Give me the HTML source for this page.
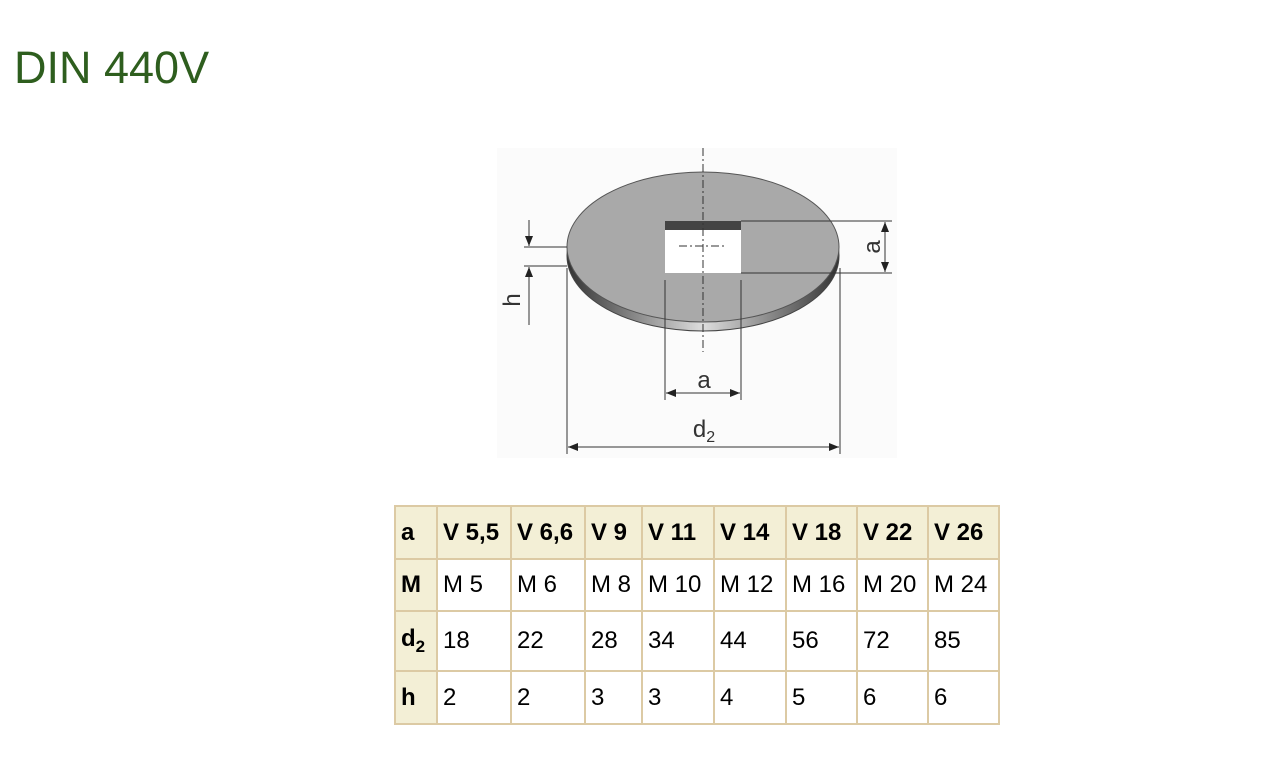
<!DOCTYPE html>
<html><head><meta charset="utf-8"><style>
body{margin:0;width:1288px;height:768px;background:#fff;position:relative;font-family:"Liberation Sans",sans-serif;overflow:hidden}
h1{position:absolute;left:14px;top:42px;margin:0;font-weight:normal;font-size:45px;color:#2e5e1e;letter-spacing:0px}
table{position:absolute;left:394px;top:505px;border-collapse:collapse;font-size:24px;color:#000;table-layout:fixed}
td{border:2px solid #dccaa4;padding:0 0 0 5px;text-align:left;white-space:nowrap;overflow:hidden}
tr.h td{background:#f3efd6;font-weight:bold}
td.f{background:#f3efd6;font-weight:bold}
sub{font-size:17px;vertical-align:-6px}
</style></head><body>
<h1>DIN 440V</h1>
<svg style="position:absolute;left:0;top:0" width="1288" height="768">
<defs><marker id="ar" markerWidth="10" markerHeight="8" refX="10" refY="4" orient="auto" markerUnits="userSpaceOnUse"><path d="M0,0L10,4L0,8z" fill="#222"/></marker>
<linearGradient id="eg" x1="0" x2="1"><stop offset="0" stop-color="#333"/><stop offset="0.5" stop-color="#ddd"/><stop offset="1" stop-color="#333"/></linearGradient></defs>
<rect x="497" y="148" width="400" height="310" fill="#fbfbfb"/>
<ellipse cx="703" cy="256" rx="136" ry="75" fill="url(#eg)" stroke="#444" stroke-width="1"/>
<ellipse cx="703" cy="247" rx="136" ry="75" fill="#a9a9a9" stroke="#555" stroke-width="1"/>
<rect x="665" y="221" width="76" height="52" fill="#fff"/>
<rect x="665" y="221" width="76" height="9" fill="#444"/>
<g stroke="#333" stroke-width="1" fill="none">
<line x1="703" y1="148" x2="703" y2="352" stroke-dasharray="8,3,2,3"/>
<line x1="679" y1="246" x2="727" y2="246" stroke-dasharray="8,3,2,3"/>
<line x1="741" y1="221" x2="892" y2="221"/><line x1="741" y1="273" x2="892" y2="273"/>
<line x1="885" y1="235" x2="885" y2="222" marker-end="url(#ar)"/><line x1="885" y1="235" x2="885" y2="272" marker-end="url(#ar)"/>
<line x1="524" y1="247" x2="567" y2="247"/><line x1="524" y1="266" x2="567" y2="266"/>
<line x1="529" y1="220" x2="529" y2="246" marker-end="url(#ar)"/>
<line x1="529" y1="325" x2="529" y2="267" marker-end="url(#ar)"/>
<line x1="665" y1="280" x2="665" y2="400"/><line x1="741" y1="280" x2="741" y2="400"/>
<line x1="700" y1="393" x2="666" y2="393" marker-end="url(#ar)"/><line x1="700" y1="393" x2="740" y2="393" marker-end="url(#ar)"/>
<line x1="567" y1="268" x2="567" y2="454"/><line x1="840" y1="268" x2="840" y2="454"/>
<line x1="700" y1="447" x2="568" y2="447" marker-end="url(#ar)"/><line x1="700" y1="447" x2="839" y2="447" marker-end="url(#ar)"/>
</g>
<g font-family="Liberation Sans,sans-serif" font-size="24" fill="#333">
<text x="704" y="388" text-anchor="middle">a</text>
<text x="704" y="437" text-anchor="middle">d<tspan font-size="16" dy="5">2</tspan></text>
<text transform="translate(880,247) rotate(-90)" text-anchor="middle">a</text>
<text transform="translate(520,300) rotate(-90)" text-anchor="middle">h</text>
</g>
</svg>
<table>
<colgroup><col style="width:42px"><col style="width:74px"><col style="width:74px"><col style="width:57px"><col style="width:72px"><col style="width:72px"><col style="width:71px"><col style="width:71px"><col style="width:71px"></colgroup>
<tr class="h" style="height:53px"><td>a</td><td>V 5,5</td><td>V 6,6</td><td>V 9</td><td>V 11</td><td>V 14</td><td>V 18</td><td>V 22</td><td>V 26</td></tr>
<tr style="height:52px"><td class="f">M</td><td>M 5</td><td>M 6</td><td>M 8</td><td>M 10</td><td>M 12</td><td>M 16</td><td>M 20</td><td>M 24</td></tr>
<tr style="height:60px"><td class="f">d<sub>2</sub></td><td>18</td><td>22</td><td>28</td><td>34</td><td>44</td><td>56</td><td>72</td><td>85</td></tr>
<tr style="height:53px"><td class="f">h</td><td>2</td><td>2</td><td>3</td><td>3</td><td>4</td><td>5</td><td>6</td><td>6</td></tr>
</table>
</body></html>
